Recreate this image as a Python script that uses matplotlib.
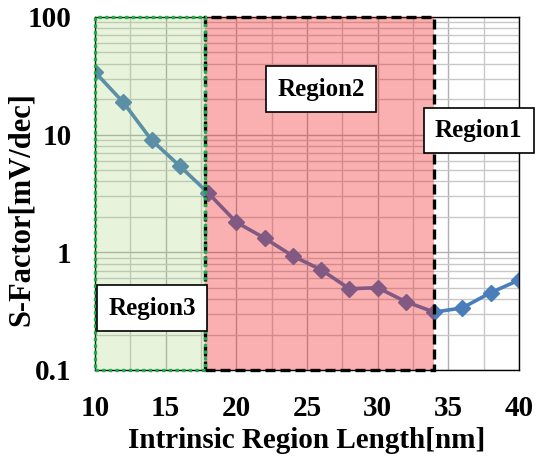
import matplotlib
matplotlib.use("Agg")
import matplotlib.pyplot as plt
from matplotlib.patches import Rectangle
import numpy as np

length_nm = [10, 12, 14, 16, 18, 20, 22, 24, 26, 28, 30, 32, 34, 36, 38, 40]
s_factor = [34, 18.8, 9.0, 5.4, 3.2, 1.8, 1.32, 0.93, 0.71, 0.49, 0.50, 0.38, 0.31, 0.337, 0.454, 0.58]
region3_span = [10, 17.8]
region2_span = [17.8, 34]
region_labels = ["Region3", "Region2", "Region1"]
x_ticks = [10, 15, 20, 25, 30, 35, 40]
y_ticks = [0.1, 1, 10, 100]
y_ticklabels = ["0.1", "1", "10", "100"]

plt.rcParams['font.family'] = ['Liberation Serif', 'DejaVu Serif']
plt.rcParams['font.weight'] = 'bold'

fig = plt.figure(figsize=(5.4, 4.59), dpi=100)
ax = fig.add_axes([0.176, 0.194, 0.785, 0.769])
ax.set_yscale('log')
ax.set_xlim(10, 40)
ax.set_ylim(0.1, 100)

# grid
ax.set_xticks(np.arange(10, 40.01, 2.5), minor=True)
ax.set_xticks(x_ticks)
ax.set_xticklabels([str(t) for t in x_ticks])
ax.set_yticks(y_ticks)
ax.set_yticklabels(y_ticklabels)
ax.grid(True, which='major', color='#b0b0b0', lw=1.0, zorder=0)
ax.grid(True, which='minor', color='#c8c8c8', lw=1.0, zorder=0)
ax.tick_params(which='both', length=0, labelsize=21)
ax.tick_params(axis='x', pad=18)
ax.tick_params(axis='y', pad=17)
for lab in ax.get_xticklabels() + ax.get_yticklabels():
    lab.set_fontweight('bold')

ax.plot(length_nm, s_factor, color='#4a7ebb', lw=2.6, marker='D', ms=8, zorder=2)

# shaded regions
ax.add_patch(Rectangle((region3_span[0], 0.1), region3_span[1] - region3_span[0], 99.9,
                       facecolor='#96cd5f', alpha=0.22, edgecolor='none', zorder=3))
ax.add_patch(Rectangle((region2_span[0], 0.1), region2_span[1] - region2_span[0], 99.9,
                       facecolor='#f21010', alpha=0.33, edgecolor='none', zorder=3))
ax.add_patch(Rectangle((region2_span[0], 0.1), region2_span[1] - region2_span[0], 99.9,
                       facecolor='none', edgecolor='black', lw=2.4, linestyle=(0, (3, 1.5)),
                       zorder=4, clip_on=False))
ax.add_patch(Rectangle((region3_span[0], 0.1), region3_span[1] - region3_span[0], 99.9,
                       facecolor='none', edgecolor='#19b04a', lw=2.4, linestyle=(0, (1, 1)),
                       zorder=5, clip_on=False))

for sp in ax.spines.values():
    sp.set_color('black')
    sp.set_linewidth(1.0)

bbox = dict(boxstyle='square,pad=0.45', facecolor='white', edgecolor='black', lw=1.2)
ax.text(14.03, 0.336, region_labels[0], ha='center', va='center', fontsize=18, fontweight='bold',
        bbox=bbox, zorder=6)
ax.text(26.0, 24.4, region_labels[1], ha='center', va='center', fontsize=18, fontweight='bold',
        bbox=bbox, zorder=6)
ax.text(37.14, 10.8, region_labels[2], ha='center', va='center', fontsize=18, fontweight='bold',
        bbox=bbox, zorder=6, clip_on=False)

ax.set_xlabel('Intrinsic Region Length[nm]', fontsize=21, fontweight='bold')
ax.set_ylabel('S-Factor[mV/dec]', fontsize=22, fontweight='bold')
ax.xaxis.set_label_coords(0.499, -0.161)
ax.yaxis.set_label_coords(-0.14, 0.457)

fig.savefig('out.png', dpi=100)
